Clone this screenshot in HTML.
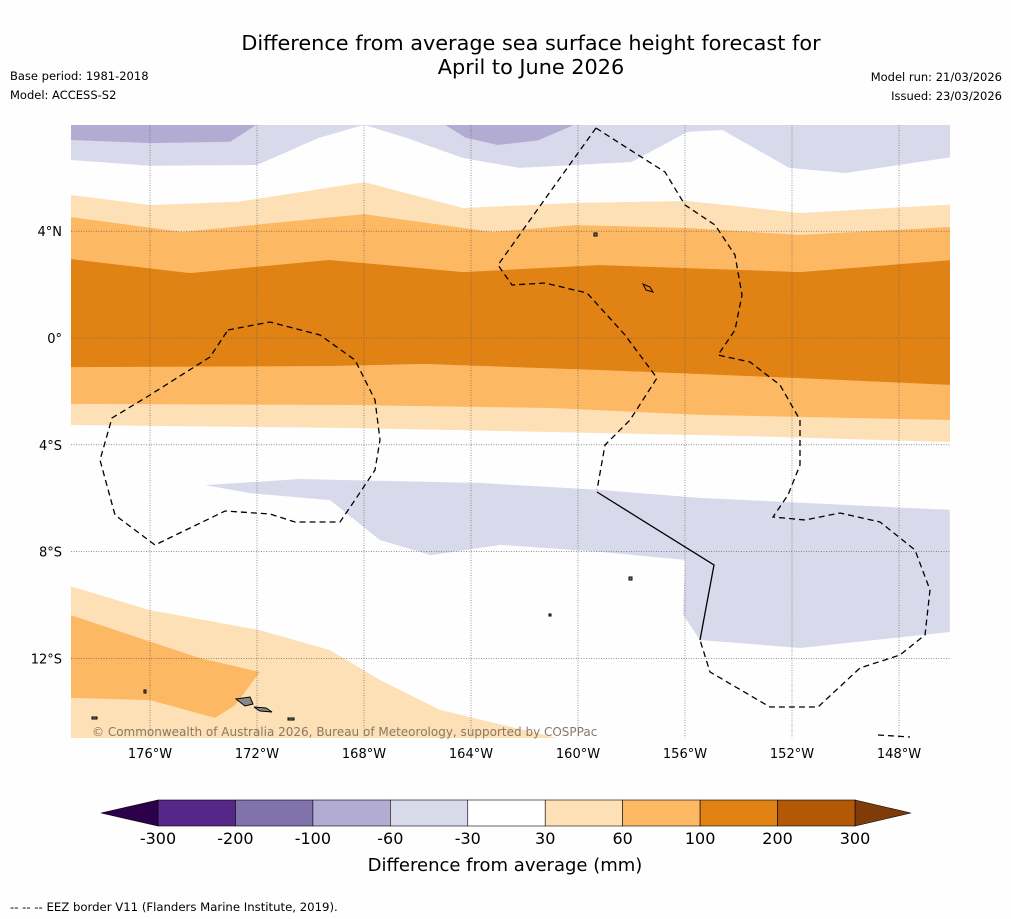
<!DOCTYPE html>
<html><head><meta charset="utf-8"><style>
body{margin:0;background:#fff;font-family:"DejaVu Sans","Liberation Sans",sans-serif;}
#wrap{position:relative;width:1011px;height:919px;overflow:hidden;background:#fefefe}
.t{position:absolute;font-size:11.5px;color:#000}
</style></head><body>
<div id="wrap">
<div style="position:absolute;left:0;width:1062px;top:31px;text-align:center;font-size:20.8px;line-height:24px">Difference from average sea surface height forecast for<br>April to June 2026</div>
<div class="t" style="left:10px;top:69px">Base period: 1981-2018</div>
<div class="t" style="left:10px;top:88px">Model: ACCESS-S2</div>
<div class="t" style="right:9px;top:70px">Model run: 21/03/2026</div>
<div class="t" style="right:9px;top:89px">Issued: 23/03/2026</div>
<svg id="map" width="1011" height="919" style="position:absolute;left:0;top:0" xmlns="http://www.w3.org/2000/svg">
<defs><clipPath id="mc"><rect x="71" y="125" width="879" height="613"/></clipPath></defs>
<g id="fills" clip-path="url(#mc)"></g>
<g id="grid"></g>
<g clip-path="url(#mc)" fill="none" stroke="#000" stroke-width="1.3">
<path stroke-dasharray="6,4" d="M596,128 L635,153 L665,172 L685,205 L715,225 L735,255 L742,295 L735,330 L718,355 L750,362 L780,385 L800,420 L800,465 L788,495 L773,517 L805,520 L840,513 L880,522 L915,550 L930,590 L925,635 L900,655 L860,668 L818,707 L770,707 L710,672 L700,640"/>
<path stroke-dasharray="6,4" d="M596,128 L555,185 L498,265 L512,285 L545,283 L587,293 L625,335 L657,378 L630,420 L605,445 L597,490"/>
<path d="M597,492 L714,565 L700,640"/>
<path stroke-dasharray="6,4" d="M228,330 L270,322 L320,335 L355,360 L375,400 L380,440 L375,470 L355,500 L340,522 L295,522 L270,514 L225,511 L155,545 L115,515 L100,460 L112,418 L150,395 L210,357 Z"/>
<path stroke-dasharray="6,4" d="M878,735 L910,737"/>
</g>
<g fill="#888" stroke="#000" stroke-width="1">
<path d="M236,699 L250,697 L253,704 L245,706 Z"/><path d="M254,707 L266,708 L272,712 L260,711 Z"/>
<path d="M643,284 L650,287 L653,292 L646,290 Z" fill="none"/>
<rect x="594" y="233" width="3" height="3"/><rect x="144" y="690" width="2" height="3"/><rect x="288" y="718" width="6" height="2"/><rect x="92" y="717" width="5" height="2"/><rect x="629" y="577" width="3" height="3"/><rect x="549" y="614" width="2" height="2"/>
</g>
<text x="92" y="736" font-size="12" fill="#8a7866" font-family="DejaVu Sans">© Commonwealth of Australia 2026, Bureau of Meteorology, supported by COSPPac</text>
<g id="ticks" font-family="DejaVu Sans" font-size="13" fill="#000"></g>
<g id="cbar"></g>
<text x="505" y="871" text-anchor="middle" font-size="18" font-family="DejaVu Sans">Difference from average (mm)</text>
<text x="10" y="911" font-size="11.7" font-family="DejaVu Sans">--  --  -- EEZ border V11 (Flanders Marine Institute, 2019).</text>
</svg>
</div>
<script>
const lonTicks=[176,172,168,164,160,156,152,148];
const latTicks=[4,0,-4,-8,-12];
const latLabels=["4°N","0°","4°S","8°S","12°S"];
const cbLevels=[-300,-200,-100,-60,-30,30,60,100,200,300];
const cbColors=["#542788","#8073ac","#b2abd2","#d8daeb","#ffffff","#fee0b6","#fdb863","#e08214","#b35806"];
const lavTopLon=[179,176,172,169.7,168,166.4,164.3,162.2,158,155.9,154.6,152.1,150,146];
const lavTopLat=[6.67,6.45,6.48,7.49,7.98,7.49,6.74,6.37,6.59,7.72,7.79,6.37,6.18,6.78];
const darkLav1Lon=[179,179,176,173,172];
const darkLav1Lat=[8,7.42,7.3,7.35,8];
const darkLav2Lon=[165,164.2,163,161.5,160.1];
const darkLav2Lat=[8,7.5,7.23,7.4,8];
const paleTopLon=[179,176,172.7,168,164.3,160.1,155.9,151.7,146];
const paleTopLat=[5.36,4.98,5.1,5.84,4.87,5.06,5.13,4.68,5.0];
const loTopLon=[179,174.8,168,163.2,160.1,155.9,151.7,146];
const loTopLat=[4.53,3.97,4.64,3.97,4.23,4.12,3.86,4.16];
const doTopLon=[179,174.5,169.3,164.3,159.2,151.7,146];
const doTopLat=[2.96,2.43,2.92,2.47,2.73,2.47,2.92];
const doBotLon=[179,169.3,165.8,159.2,151.7,146];
const doBotLat=[-1.09,-1.05,-0.97,-1.2,-1.5,-1.76];
const loBotLon=[179,168.5,161,155.4,146];
const loBotLat=[-2.47,-2.51,-2.62,-2.88,-3.07];
const paleBotLon=[179,168.5,161,153.8,146];
const paleBotLat=[-3.26,-3.37,-3.52,-3.67,-3.9];
const sLavLon=[173.94,170.39,163.66,159.18,155.44,146.1,146.1,151.7,155.44,156.07,156,159.18,162.9,165.5,167.4,169.27,172.26];
const sLavLat=[-5.51,-5.28,-5.43,-5.69,-5.99,-6.44,-11.01,-11.61,-11.31,-10.37,-8.31,-8.01,-7.75,-8.13,-7.57,-6.07,-5.81];
const swPaleLon=[179,176,171.9,169.27,167.4,165.16,160.7,179];
const swPaleLat=[-9.29,-10.19,-10.94,-11.69,-12.81,-13.93,-15,-15];
const swLoLon=[179,176.75,174.13,171.9,172.82,173.57,176,179];
const swLoLat=[-10.37,-11.12,-11.99,-12.51,-13.75,-14.23,-13.56,-13.48];

const X=lw=>150+(176-lw)*26.75;
const Y=la=>338-la*26.7;
const NS="http://www.w3.org/2000/svg";
function mk(tag,attrs,parent){const e=document.createElementNS(NS,tag);for(const k in attrs)e.setAttribute(k,attrs[k]);parent.appendChild(e);return e;}
const fills=document.getElementById('fills');
function poly(lons,lats,col,name){const p=lons.map((l,i)=>X(l).toFixed(1)+','+Y(lats[i]).toFixed(1)).join(' ');
 const e=mk('polygon',{points:p,fill:col},fills);
 
 }
function band(tl,ta,bl,ba,col,name){poly(tl.concat(bl.slice().reverse()),ta.concat(ba.slice().reverse()),col,name);}
band(lavTopLon,lavTopLon.map(()=>8.2),lavTopLon,lavTopLat,"#d8daeb","lavender-north");
poly(darkLav1Lon,darkLav1Lat,"#b2abd2","purple-north-west");
poly(darkLav2Lon,darkLav2Lat,"#b2abd2","purple-north-central");
band(paleTopLon,paleTopLat,paleBotLon,paleBotLat,"#fee0b6","pale-orange-band");
band(loTopLon,loTopLat,loBotLon,loBotLat,"#fdb863","light-orange-band");
band(doTopLon,doTopLat,doBotLon,doBotLat,"#e08214","dark-orange-band");
poly(sLavLon,sLavLat,"#d8daeb","lavender-south");
poly(swPaleLon,swPaleLat,"#fee0b6","pale-orange-southwest");
poly(swLoLon,swLoLat,"#fdb863","light-orange-southwest");

const grid=document.getElementById('grid'),ticks=document.getElementById('ticks');
lonTicks.forEach(l=>{const x=X(l);
 const g=mk('line',{x1:x,x2:x,y1:125,y2:738,stroke:'#555','stroke-width':0.6,'stroke-dasharray':'1,1.5'},grid);
 
 
 const t=mk('text',{x:x,y:758,'text-anchor':'middle'},ticks);t.textContent=l+'°W';
 
 });
latTicks.forEach((l,i)=>{const y=Y(l);
 const g=mk('line',{x1:71,x2:950,y1:y,y2:y,stroke:'#555','stroke-width':0.6,'stroke-dasharray':'1,1.5'},grid);
 
 
 const t=mk('text',{x:62,y:y+5,'text-anchor':'end'},ticks);t.textContent=latLabels[i];
 
 });

const cb=document.getElementById('cbar');
const cx0=158,cx1=855,cy=800,ch=26,sw=(cx1-cx0)/cbColors.length;
let a=mk('polygon',{points:`${cx0},${cy} ${cx0},${cy+ch} 101,${cy+ch/2}`,fill:'#2d004b',stroke:'#000','stroke-width':0.6},cb);


a=mk('polygon',{points:`${cx1},${cy} ${cx1},${cy+ch} 911,${cy+ch/2}`,fill:'#7f3b08',stroke:'#000','stroke-width':0.6},cb);


cbColors.forEach((c,i)=>{const r=mk('rect',{x:cx0+i*sw,y:cy,width:sw,height:ch,fill:c,stroke:'#000','stroke-width':0.6},cb);
 
 });
cbLevels.forEach((v,i)=>{const t=mk('text',{x:cx0+i*sw,y:844,'text-anchor':'middle','font-size':16,'font-family':'DejaVu Sans'},cb);t.textContent=v;
 
 });
</script>
</body></html>
